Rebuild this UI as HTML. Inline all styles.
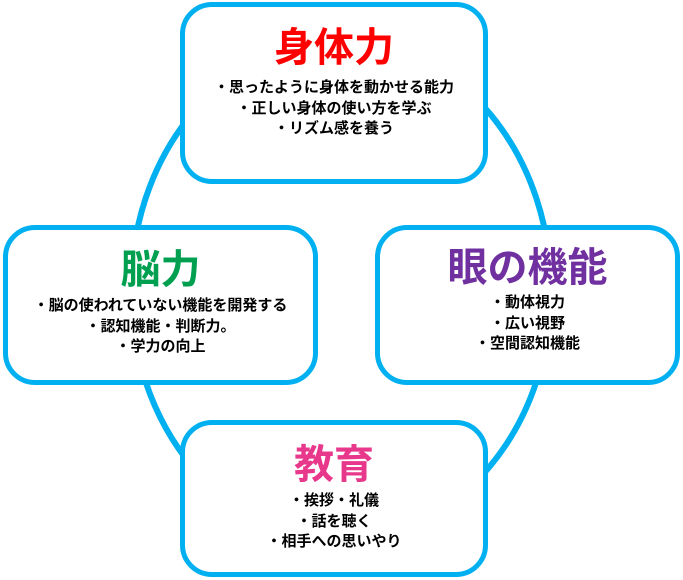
<!DOCTYPE html>
<html><head><meta charset="utf-8"><style>
body{margin:0;width:683px;height:580px;background:#fff;position:relative;overflow:hidden;font-family:"Liberation Sans","Noto Sans CJK JP",sans-serif}
.b{position:absolute;box-sizing:border-box;border:5px solid #00b0f0;border-radius:32px;background:#fff;text-align:center}
.t{font-weight:bold;font-size:40px;line-height:44px;position:absolute;left:0;right:0}
.s{font-weight:bold;font-size:15px;line-height:20.5px;color:#000;position:absolute;left:-20px;right:-20px}
</style></head><body>
<svg width="683" height="580" style="position:absolute;left:0;top:0"><ellipse cx="341" cy="290" rx="210" ry="250" fill="none" stroke="#00b0f0" stroke-width="6"/></svg>
<div class="b" style="left:180px;top:2px;width:308px;height:182px">
<div class="t" style="color:#f00;top:19px">身体力</div>
<div class="s" style="top:71px">・思ったように身体を動かせる能力<br>・正しい身体の使い方を学ぶ<br>・リズム感を養う</div></div>
<div class="b" style="left:3px;top:225px;width:315px;height:160px">
<div class="t" style="color:#00a050;top:18px">脳力</div>
<div class="s" style="top:66px">・脳の使われていない機能を開発する<br>・認知機能・判断力。<br>・学力の向上</div></div>
<div class="b" style="left:375px;top:225px;width:305px;height:160px">
<div class="t" style="color:#7030a0;top:16px">眼の機能</div>
<div class="s" style="top:63px">・動体視力<br>・広い視野<br>・空間認知機能</div></div>
<div class="b" style="left:180px;top:420px;width:308px;height:157px">
<div class="t" style="color:#e8388c;top:18px">教育</div>
<div class="s" style="top:66px">・挨拶・礼儀<br>・話を聴く<br>・相手への思いやり</div></div>
</body></html>
